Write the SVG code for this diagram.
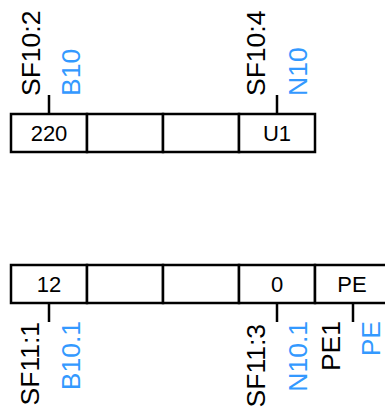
<svg xmlns="http://www.w3.org/2000/svg" width="385" height="419" viewBox="0 0 385 419">
<style>
.cell{fill:#fff;stroke:#000;stroke-width:2.5}
.tick{stroke:#000;stroke-width:2.5}
.lbl{font-family:"Liberation Sans",Arial,sans-serif;font-size:26.5px;fill:#000}
.blue{fill:#3399ff}
.ctext{font-family:"Liberation Sans",Arial,sans-serif;font-size:22px;fill:#000;text-anchor:middle}
</style>
<g id="top-row">
<rect class="cell" x="11" y="114" width="76" height="38"/>
<rect class="cell" x="87" y="114" width="76" height="38"/>
<rect class="cell" x="163" y="114" width="76" height="38"/>
<rect class="cell" x="239" y="114" width="76" height="38"/>
<text class="ctext" x="49" y="141">220</text>
<text class="ctext" x="277" y="141">U1</text>
</g>
<g id="bottom-row">
<rect class="cell" x="11" y="265" width="76" height="38"/>
<rect class="cell" x="87" y="265" width="76" height="38"/>
<rect class="cell" x="163" y="265" width="76" height="38"/>
<rect class="cell" x="239" y="265" width="76" height="38"/>
<rect class="cell" x="315" y="265" width="76" height="38"/>
<text class="ctext" x="49" y="292">12</text>
<text class="ctext" x="277" y="292">0</text>
<text class="ctext" x="352" y="292">PE</text>
</g>
<g id="connectors">
<line class="tick" x1="49" y1="95" x2="49" y2="114"/>
<line class="tick" x1="277" y1="95" x2="277" y2="114"/>
<line class="tick" x1="49" y1="303" x2="49" y2="322"/>
<line class="tick" x1="277" y1="303" x2="277" y2="322"/>
<line class="tick" x1="353" y1="303" x2="353" y2="322"/>
</g>
<g id="labels-top">
<text class="lbl" transform="translate(40,96) rotate(-90)">SF10:2</text>
<text class="lbl blue" transform="translate(80,96) rotate(-90)">B10</text>
<text class="lbl" transform="translate(265,96) rotate(-90)">SF10:4</text>
<text class="lbl blue" transform="translate(307,96) rotate(-90)">N10</text>
</g>
<g id="labels-bottom">
<text class="lbl" text-anchor="end" transform="translate(39,322) rotate(-90)">SF11:1</text>
<text class="lbl blue" text-anchor="end" transform="translate(80,321) rotate(-90)">B10.1</text>
<text class="lbl" text-anchor="end" transform="translate(265,324) rotate(-90)">SF11:3</text>
<text class="lbl blue" text-anchor="end" transform="translate(307,321) rotate(-90)">N10.1</text>
<text class="lbl" text-anchor="end" transform="translate(340,321) rotate(-90)">PE1</text>
<text class="lbl blue" text-anchor="end" transform="translate(380,321) rotate(-90)">PE</text>
</g>
</svg>
